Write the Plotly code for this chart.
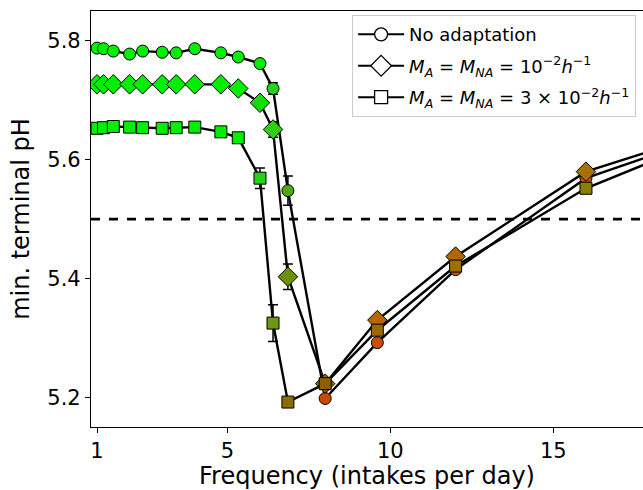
import plotly.graph_objects as go

# Intake frequencies (per day) from 24 h down to 1 h between intakes
freq = [1, 1.2, 1.5, 2, 2.4, 3, 24 / 7, 4, 4.8, 24 / 4.5, 6, 6.4, 24 / 3.5, 8, 9.6, 12, 16, 24]

# Minimum terminal pH for each model variant
ph_none = [5.788, 5.787, 5.783, 5.778, 5.783, 5.781, 5.780, 5.787, 5.780, 5.773, 5.762,
           5.720, 5.548, 5.198, 5.292, 5.415, 5.569, 5.720]
ph_m1 = [5.727, 5.727, 5.727, 5.727, 5.727, 5.727, 5.727, 5.727, 5.727, 5.720, 5.696,
         5.651, 5.403, 5.223, 5.330, 5.437, 5.580, 5.720]
ph_m3 = [5.653, 5.654, 5.656, 5.655, 5.654, 5.653, 5.654, 5.655, 5.647, 5.637, 5.569,
         5.325, 5.192, 5.223, 5.313, 5.421, 5.552, 5.730]

# Standard deviations over repeated runs
err_none = [0, 0, 0, 0, 0, 0, 0, 0, 0, 0.003, 0.005, 0.0095, 0.0245, 0, 0, 0, 0, 0]
err_m1 = [0, 0, 0, 0, 0, 0, 0, 0, 0, 0.003, 0.004, 0.013, 0.0216, 0, 0, 0, 0, 0]
err_m3 = [0, 0, 0, 0, 0, 0, 0, 0, 0, 0.004, 0.0173, 0.031, 0, 0, 0, 0, 0, 0]

# Marker fill colours (green = safe, orange/red = demineralising)
G = "#00ee00"
col_none = [G] * 11 + ["#22d41a", "#4ea80e", "#c84a00", "#cc4c00", "#c85000", "#c85200", "#b85a00"]
col_m1 = [G] * 10 + ["#14dc06", "#30cc10", "#6b9000", "#a06000", "#b86400", "#b46600", "#a87000", "#a07800"]
col_m3 = [G] * 10 + ["#22d410", "#6b9a10", "#8c6c00", "#8c6000", "#9c6800", "#9a7000", "#8a8000", "#808800"]

series = [
    ("No adaptation", "circle", 12, ph_none, err_none, col_none),
    ("<i>M</i><sub><i>A</i></sub> = <i>M</i><sub><i>NA</i></sub> = 10<sup>−2</sup><i>h</i><sup>−1</sup>",
     "diamond", 15, ph_m1, err_m1, col_m1),
    ("<i>M</i><sub><i>A</i></sub> = <i>M</i><sub><i>NA</i></sub> = 3 × 10<sup>−2</sup><i>h</i><sup>−1</sup>",
     "square", 12, ph_m3, err_m3, col_m3),
]

fig = go.Figure()

# Critical pH threshold
fig.add_hline(y=5.5, line=dict(color="black", width=2.6, dash="dash"))

for name, sym, size, ph, err, cols in series:
    fig.add_trace(go.Scatter(
        x=freq, y=ph, mode="lines+markers", showlegend=False,
        line=dict(color="black", width=2.4),
        marker=dict(symbol=sym, size=size, color=cols, line=dict(color="black", width=1)),
        error_y=dict(type="data", array=err, visible=True, color="black", thickness=1.5, width=5),
        cliponaxis=True,
    ))

# Legend entries with open markers
for i, (name, sym, size, ph, err, cols) in enumerate(series):
    fig.add_trace(go.Scatter(
        x=[None], y=[None], mode="lines+markers", name=name, legendgroup=f"g{i}",
        line=dict(color="black", width=2),
        marker=dict(symbol=sym, size=size + 1, color="white", line=dict(color="black", width=1.3)),
    ))

font = dict(family="DejaVu Sans", size=20, color="black")
tick_font = dict(family="DejaVu Sans", size=21, color="black")

fig.update_layout(
    width=643, height=490,
    margin=dict(l=91, r=0, t=11, b=63),
    plot_bgcolor="white", paper_bgcolor="white",
    font=font,
    showlegend=True,
    legend=dict(x=0.473, y=0.99, xanchor="left", yanchor="top",
                bgcolor="rgba(255,255,255,0.85)", bordercolor="#cccccc", borderwidth=1,
                font=dict(family="DejaVu Sans", size=18, color="black"),
                tracegroupgap=5, itemwidth=46),
)
fig.update_xaxes(
    range=[0.816, 17.75], tickvals=[1, 5, 10, 15], ticks="outside", ticklen=5, tickwidth=1.2,
    tickcolor="black", showline=True, linecolor="black", linewidth=1.2, mirror=True,
    showgrid=False, zeroline=False, title=dict(text="Frequency (intakes per day)", standoff=6),
    tickfont=tick_font,
)
fig.update_yaxes(
    range=[5.15, 5.8505], tickvals=[5.2, 5.4, 5.6, 5.8], ticks="outside", ticklen=5, tickwidth=1.2,
    tickcolor="black", showline=True, linecolor="black", linewidth=1.2,
    showgrid=False, zeroline=False, title=dict(text="min. terminal pH", standoff=10),
    tickfont=tick_font,
)

fig.write_html("out.html")
